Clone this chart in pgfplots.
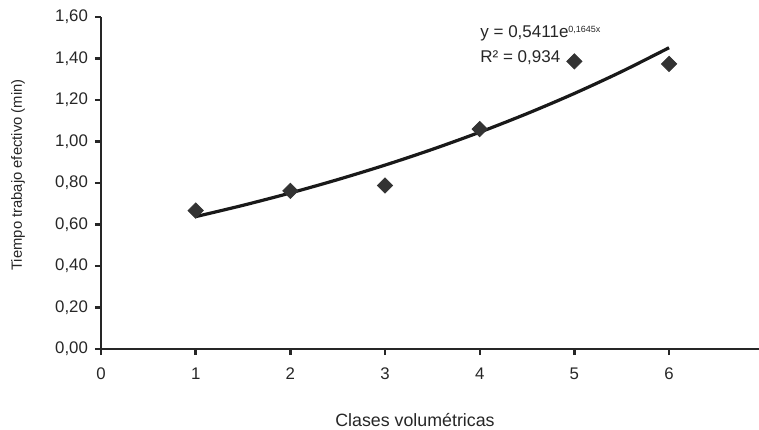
\documentclass[border=0pt]{standalone}
\usepackage{fontspec}
\setmainfont{Liberation Sans}
\usepackage{pgfplots}
\pgfplotsset{compat=1.18}
\definecolor{ink}{HTML}{262626}
\definecolor{mk}{HTML}{333333}

\begin{document}
\begin{tikzpicture}
% page frame: 1 px of the reference = 0.5pt, axis origin at px (101,349)
\useasboundingbox (-50.5pt,-40pt) rectangle (329pt,174.5pt);
\begin{axis}[
  at={(0,0)},anchor=south west,
  scale only axis,width=329pt,height=166pt,
  xmin=0,xmax=6.95,ymin=0,ymax=1.6,
  axis lines=left,axis line style={-,line width=1.4pt,ink},
  xtick={0,1,2,3,4,5,6},
  ytick={0,0.2,0.4,0.6,0.8,1.0,1.2,1.4,1.6},
  tick align=outside,major tick length=3pt,
  tick style={line width=1.2pt,ink},
  /pgf/number format/assume math mode=true,
  yticklabel={\pgfmathprintnumber[fixed,fixed zerofill,precision=2,use comma]{\tick}},
  xticklabel={\pgfmathprintnumber{\tick}},
  ticklabel style={font=\fontsize{8.4}{10}\selectfont,text=ink},
  xticklabel style={yshift=-3pt},
  clip=false]
% observed values
\addplot[only marks,mark=square*,mark size=2.7pt,mark options={rotate=45},color=mk] coordinates {
  (1,0.667) (2,0.762) (3,0.788) (4,1.060) (5,1.386) (6,1.374)};
% exponential trend line, sampled values
\addplot[line width=1.6pt,color=black!90,smooth] coordinates {
  (1,0.6379) (1.5,0.6925) (2,0.7519) (2.5,0.8164) (3,0.8863) (3.5,0.9623)
  (4,1.0448) (4.5,1.1344) (5,1.2316) (5.5,1.3372) (6,1.4519)};
\end{axis}
\node[rotate=90,font=\fontsize{7.4}{9}\selectfont,text=ink] at (-41.5pt,87pt) {Tiempo trabajo efectivo (min)};
\node[anchor=base,font=\fontsize{8.9}{11}\selectfont,text=ink] at (157pt,-38.5pt) {Clases volumétricas};
\node[anchor=base west,inner sep=0pt,font=\fontsize{8.5}{10}\selectfont,text=ink] at (189.5pt,155.5pt) {y = 0,5411e\textsuperscript{\fontsize{4.5}{5}\selectfont 0,1645x}};
\node[anchor=base west,inner sep=0pt,font=\fontsize{8.5}{10}\selectfont,text=ink] at (189.5pt,143pt) {R² = 0,934};
\end{tikzpicture}
\end{document}
